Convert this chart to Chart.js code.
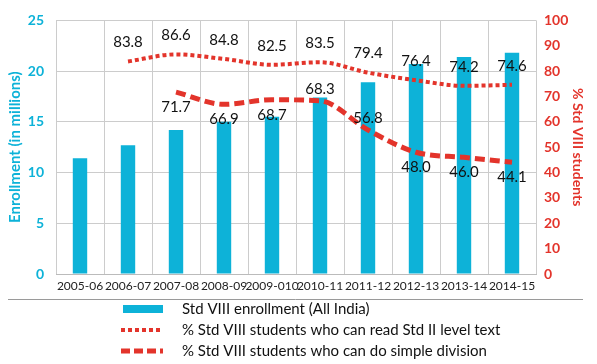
<!DOCTYPE html>
<html>
<head>
<meta charset="utf-8">
<script src="https://cdn.jsdelivr.net/npm/chart.js@4/dist/chart.umd.min.js"></script>
<style>
  html, body { margin: 0; padding: 0; background: #fff; }
  #wrap { width: 597px; height: 364px; }
</style>
</head>
<body>
<div id="wrap"><canvas id="chart" width="597" height="364"></canvas></div>
<script>
// data
const years = ['2005-06', '2006-07', '2007-08', '2008-09', '2009-010', '2010-11', '2011-12', '2012-13', '2013-14', '2014-15'];
const enrollment = [11.4, 12.7, 14.2, 15.0, 15.5, 17.4, 18.9, 20.7, 21.4, 21.8];
const canRead = [null, 83.8, 86.6, 84.8, 82.5, 83.5, 79.4, 76.4, 74.2, 74.6];
const canDivide = [null, null, 71.7, 66.9, 68.7, 68.3, 56.8, 48.0, 46.0, 44.1];
const leftTicks = [0, 5, 10, 15, 20, 25];
const rightTicks = [0, 10, 20, 30, 40, 50, 60, 70, 80, 90, 100];

const FONT = 'Lato, "Open Sans", sans-serif';
const CYAN = '#0db2d8';
const RED = '#e3342b';

// where each division label sits relative to its point
const divideLabelSide = ['', '', 'below', 'below', 'below', 'above', 'above', 'below', 'below', 'below'];

// value labels next to the line points
const valueLabels = {
  id: 'valueLabels',
  afterDatasetsDraw(chart) {
    const ctx = chart.ctx;
    ctx.save();
    ctx.font = '15px ' + FONT;
    ctx.fillStyle = '#111';
    ctx.textAlign = 'center';
    ctx.textBaseline = 'middle';
    [1, 2].forEach(di => {
      const meta = chart.getDatasetMeta(di);
      const ds = chart.data.datasets[di];
      meta.data.forEach((pt, i) => {
        const v = ds.data[i];
        if (v === null) return;
        let dy;
        if (di === 1) dy = -19;
        else dy = divideLabelSide[i] === 'above' ? -12 : 15;
        ctx.fillText(v.toFixed(1), pt.x, pt.y + dy);
      });
    });
    ctx.restore();
  }
};

// legend stacked under the chart
const stackedLegend = {
  id: 'stackedLegend',
  afterDraw(chart) {
    const ctx = chart.ctx;
    ctx.save();
    ctx.strokeStyle = '#9a9a9a';
    ctx.lineWidth = 1;
    ctx.beginPath();
    ctx.moveTo(8, 299.5);
    ctx.lineTo(583, 299.5);
    ctx.stroke();

    ctx.font = '15px ' + FONT;
    ctx.textBaseline = 'middle';
    const rows = [309, 330, 351];
    chart.data.datasets.forEach((ds, i) => {
      const y = rows[i];
      if (i === 0) {
        ctx.fillStyle = CYAN;
        ctx.fillRect(123, y - 4, 40, 8);
      } else {
        ctx.strokeStyle = RED;
        ctx.lineWidth = i === 1 ? 4 : 5;
        ctx.setLineDash(i === 1 ? [4, 3] : [9, 4]);
        ctx.beginPath();
        ctx.moveTo(121, y);
        ctx.lineTo(163, y);
        ctx.stroke();
        ctx.setLineDash([]);
      }
      ctx.fillStyle = '#111';
      ctx.fillText(ds.label, 182, y);
    });
    ctx.restore();
  }
};

new Chart(document.getElementById('chart'), {
  type: 'bar',
  data: {
    labels: years,
    datasets: [
      {
        label: 'Std VIII enrollment (All India)',
        data: enrollment,
        backgroundColor: CYAN,
        yAxisID: 'y',
        barPercentage: 0.3,
        categoryPercentage: 1,
        order: 3
      },
      {
        type: 'line',
        label: '% Std VIII students who can read Std II level text',
        data: canRead,
        borderColor: RED,
        borderWidth: 4,
        borderDash: [4, 3],
        pointRadius: 0,
        tension: 0.4,
        cubicInterpolationMode: 'monotone',
        yAxisID: 'y1',
        order: 1
      },
      {
        type: 'line',
        label: '% Std VIII students who can do simple division',
        data: canDivide,
        borderColor: RED,
        borderWidth: 5,
        borderDash: [10, 5],
        pointRadius: 0,
        tension: 0.4,
        cubicInterpolationMode: 'monotone',
        yAxisID: 'y1',
        order: 0
      }
    ]
  },
  options: {
    responsive: false,
    animation: false,
    layout: { padding: { top: 18, bottom: 64, left: 0, right: 0 } },
    plugins: {
      legend: { display: false },
      tooltip: { enabled: false }
    },
    scales: {
      x: {
        grid: { color: '#cccccc', offset: true, drawTicks: false },
        border: { color: '#bbbbbb' },
        ticks: {
          color: '#222',
          font: { family: FONT, size: 12 },
          maxRotation: 0,
          autoSkip: false,
          padding: 5
        },
        afterFit(scale) { scale.height = 26; }
      },
      y: {
        position: 'left',
        min: 0,
        max: 25,
        afterBuildTicks(scale) { scale.ticks = leftTicks.map(v => ({ value: v })); },
        grid: { color: '#cccccc', drawTicks: false },
        border: { display: false },
        ticks: {
          color: CYAN,
          font: { family: FONT, size: 14, weight: 'bold' },
          padding: 12
        },
        title: {
          display: true,
          text: 'Enrollment (in millions)',
          color: CYAN,
          font: { family: FONT, size: 15, weight: 'bold' },
          padding: { top: 6, bottom: 0 }
        },
        afterFit(scale) { scale.width = 56; }
      },
      y1: {
        position: 'right',
        min: 0,
        max: 100,
        afterBuildTicks(scale) { scale.ticks = rightTicks.map(v => ({ value: v })); },
        grid: { display: false, drawTicks: false },
        border: { display: false },
        ticks: {
          color: RED,
          font: { family: FONT, size: 14, weight: 'bold' },
          padding: 8
        },
        title: {
          display: true,
          text: '% Std VIII students',
          color: RED,
          font: { family: FONT, size: 14, weight: 'bold' },
          padding: { top: 11, bottom: 0 }
        },
        afterFit(scale) { scale.width = 61; }
      }
    }
  },
  plugins: [valueLabels, stackedLegend]
});
</script>
</body>
</html>
